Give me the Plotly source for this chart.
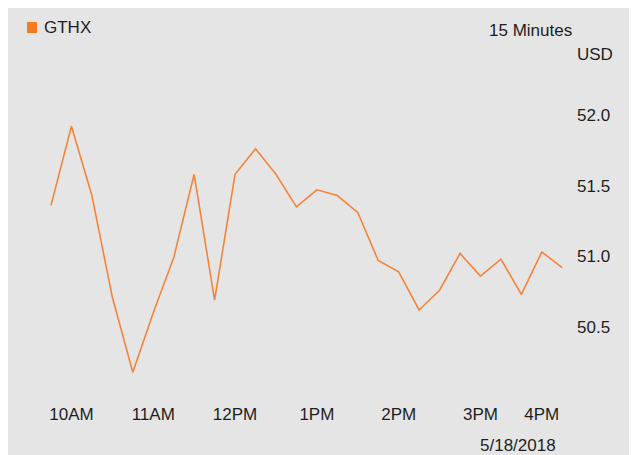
import plotly.graph_objects as go

# ---- data ----
times = ["9:45", "10:00", "10:15", "10:30", "10:45", "11:00", "11:15", "11:30", "11:45",
         "12:00", "12:15", "12:30", "12:45", "13:00", "13:15", "13:30", "13:45",
         "14:00", "14:15", "14:30", "14:45", "15:00", "15:15", "15:30", "15:45", "16:00"]
prices = [51.36, 51.92, 51.43, 50.71, 50.18, 50.60, 50.99, 51.58, 50.69,
          51.58, 51.76, 51.58, 51.35, 51.47, 51.43, 51.31, 50.97, 50.89,
          50.62, 50.76, 51.02, 50.86, 50.98, 50.73, 51.03, 50.92]
tick_vals = ["10:00", "11:00", "12:00", "13:00", "14:00", "15:00", "15:45"]
tick_text = ["10AM", "11AM", "12PM", "1PM", "2PM", "3PM", "4PM"]
y_ticks = [50.5, 51.0, 51.5, 52.0]
series_name = "GTHX"
date_label = "5/18/2018"
interval_label = "15 Minutes"
currency_label = "USD"

# ---- layout geometry (screen pixels; page body adds an 8px offset) ----
OFF = 8
W, Hh = 628, 447
L, R, T, B = 30, 576, 70, 402

def px2x(p):
    return (p - L) / (R - L)

def px2y(p):
    return (B - p) / (B - T)

FONT = "Liberation Sans, Arial, sans-serif"
TXT = "#1e1e1e"
ORANGE = "#F5843A"

fig = go.Figure()
fig.add_trace(go.Scatter(x=times, y=prices, mode="lines",
                         line=dict(color=ORANGE, width=1.6),
                         showlegend=False, hoverinfo="x+y"))

fig.update_layout(
    width=W, height=Hh,
    margin=dict(l=L - OFF, r=W - (R - OFF), t=T - OFF, b=Hh - (B - OFF)),
    paper_bgcolor="#e5e5e5",
    plot_bgcolor="rgba(0,0,0,0)",
    font=dict(family=FONT, size=17, color=TXT),
    xaxis=dict(type="category", range=[-1.027, 25.672], tickvals=tick_vals,
               ticktext=tick_text, showgrid=False, zeroline=False, showline=False,
               ticks=""),
    yaxis=dict(side="right", range=[49.969, 52.318], tickvals=y_ticks,
               ticktext=[f"{v:.1f}" for v in y_ticks], showgrid=False,
               zeroline=False, showline=False, ticks=""),
    shapes=[
        dict(type="rect", xref="paper", yref="paper",
             x0=px2x(27), x1=px2x(37), y0=px2y(33), y1=px2y(22),
             fillcolor="#F57B20", line=dict(width=0)),
    ],
    annotations=[
        dict(text=series_name, xref="paper", yref="paper", x=px2x(42), y=px2y(28),
             xanchor="left", yanchor="middle", showarrow=False),
        dict(text=interval_label, xref="paper", yref="paper", x=px2x(574), y=px2y(30),
             xanchor="right", yanchor="middle", showarrow=False),
        dict(text=currency_label, xref="paper", yref="paper", x=px2x(575), y=px2y(54),
             xanchor="left", yanchor="middle", showarrow=False),
        dict(text=date_label, xref="paper", yref="paper", x=px2x(558), y=px2y(445),
             xanchor="right", yanchor="middle", showarrow=False),
    ],
)

fig.write_html("out.html")
